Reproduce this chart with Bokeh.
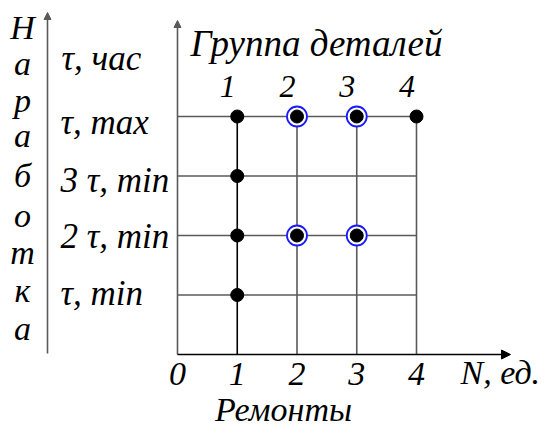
from bokeh.plotting import figure
from bokeh.models import Range1d, Arrow, NormalHead
from bokeh.core.properties import value
from bokeh.embed import file_html
from bokeh.resources import INLINE

# ---------------- data ----------------
groups = [1, 2, 3, 4]
group_labels = ["1", "2", "3", "4"]
x_ticks = [0, 1, 2, 3, 4]
x_tick_labels = ["0", "1", "2", "3", "4"]
levels = [1, 2, 3, 4]
level_labels = ["τ, min", "2 τ, min", "3 τ, min", "τ, max"]
unit_label = "τ, час"
point_n = [1, 1, 1, 1, 2, 2, 3, 3, 4]
point_level = [1, 2, 3, 4, 2, 4, 2, 4, 4]
ring_n = [2, 3, 2, 3]
ring_level = [2, 2, 4, 4]
y_title_letters = list("Наработка")
title = "Группа деталей"
x_axis_label = "N, ед."
x_title = "Ремонты"

# ---------------- layout ----------------
W, H = 544, 430
PX0, PY0 = 177.0, 354.0      # canvas px of the data origin
UX, UY = 59.75, 59.5         # px per data unit


def px2x(px):
    return (px - PX0) / UX


def px2y(py):
    return (PY0 - py) / UY


def mid_from_base(base_px, fs):
    # text is drawn with baseline "middle": centre sits ~0.34 em above the baseline
    return px2y(base_px - 0.34 * fs)


p = figure(width=W, height=H, output_backend="svg", toolbar_location=None,
           x_range=Range1d(px2x(0), px2x(W)),
           y_range=Range1d(px2y(H), px2y(0)),
           min_border=0)
p.axis.visible = False
p.grid.visible = False
p.outline_line_color = None

GRAY = "#5a5a5a"
xmax = max(groups)
ymax = max(levels)

# grid lines
p.segment(x0=[0] * len(levels), y0=levels, x1=[xmax] * len(levels), y1=levels,
          line_color=GRAY, line_width=1.6)
vcolors = ["black" if g == 1 else GRAY for g in groups]
p.segment(x0=groups, y0=[0] * len(groups), x1=groups, y1=[ymax] * len(groups),
          line_color=vcolors, line_width=1.6)

# axes with arrows
p.add_layout(Arrow(end=NormalHead(size=7, fill_color=GRAY, line_color=GRAY),
                   x_start=0, y_start=0, x_end=0, y_end=px2y(20),
                   line_color=GRAY, line_width=1.6))
p.add_layout(Arrow(end=NormalHead(size=9, fill_color="black", line_color="black"),
                   x_start=0, y_start=0, x_end=px2x(510), y_end=0,
                   line_color="black", line_width=1.6))
p.add_layout(Arrow(end=NormalHead(size=7, fill_color=GRAY, line_color=GRAY),
                   x_start=px2x(47), y_start=px2y(353), x_end=px2x(47), y_end=px2y(12),
                   line_color=GRAY, line_width=1.6))

# points
p.scatter(x=ring_n, y=ring_level, size=20, marker="circle",
          fill_color="white", line_color="#1a1aff", line_width=1.8)
p.scatter(x=point_n, y=point_level, size=13, marker="circle",
          fill_color="black", line_color="black")


def style(fs):
    return dict(text_font=value("Liberation Serif"), text_font_style="italic",
                text_font_size=f"{fs}px", text_color="black", text_baseline="middle")


# title and group numbers
FS_T = 37
p.text(x=[px2x(316)], y=[mid_from_base(56, FS_T)], text=[title],
       text_align="center", **style(FS_T))
FS_G = 32
p.text(x=[g - 0.16 for g in groups], y=[mid_from_base(97, FS_G)] * len(groups),
       text=group_labels, text_align="center", **style(FS_G))

# bottom tick labels and axis titles
FS_B = 34
p.text(x=x_ticks, y=[mid_from_base(385, FS_B)] * len(x_ticks), text=x_tick_labels,
       text_align="center", **style(FS_B))
p.text(x=[px2x(460)], y=[mid_from_base(384, FS_B)], text=[x_axis_label],
       text_align="left", **style(FS_B))
FS_R = 34
p.text(x=[px2x(283)], y=[mid_from_base(421, FS_R)], text=[x_title],
       text_align="center", **style(FS_R))

# level labels on the left
FS_L = 35
label_base_px = [305, 248, 192, 134]
p.text(x=[px2x(60)] * len(levels), y=[mid_from_base(b, FS_L) for b in label_base_px],
       text=level_labels, text_align="left", **style(FS_L))
p.text(x=[px2x(61)], y=[mid_from_base(70, FS_L)], text=[unit_label],
       text_align="left", **style(FS_L))

# vertical axis title, one letter per line
FS_V = 34
letter_base_px = [39, 75, 112, 147, 187, 227, 264, 302, 340]
p.text(x=[px2x(22)] * len(y_title_letters),
       y=[mid_from_base(b, FS_V) for b in letter_base_px],
       text=y_title_letters, text_align="center", **style(FS_V))

open("out.html", "w").write(file_html(p, INLINE))
